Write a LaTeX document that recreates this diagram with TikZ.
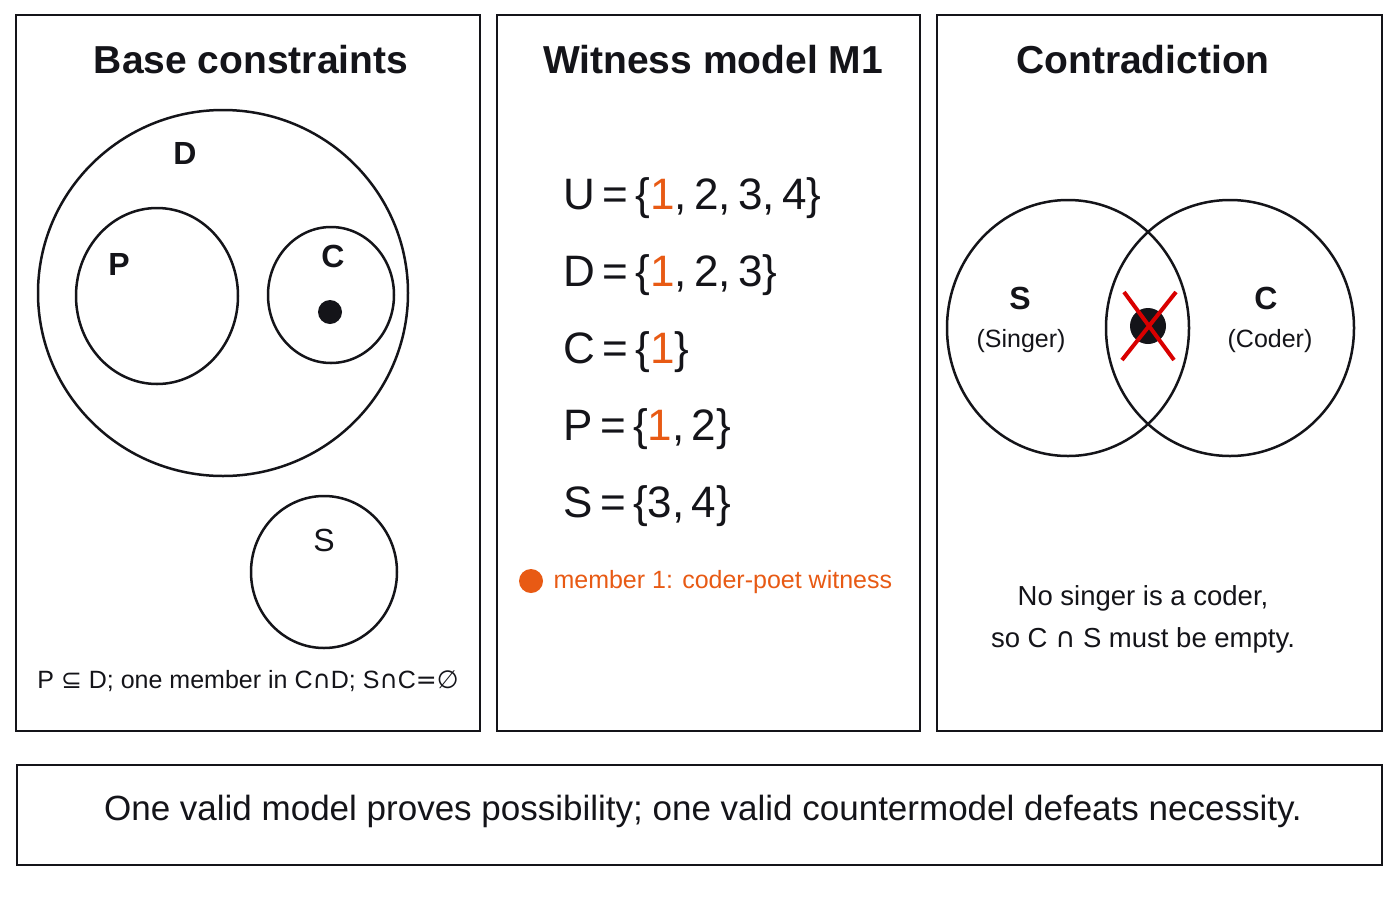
\documentclass[tikz,border=0pt]{standalone}
\usepackage{fontspec}
\setmainfont{Liberation Sans}
\newfontfamily\djv{DejaVu Sans}
\definecolor{org}{RGB}{232,90,20}
\definecolor{ink}{RGB}{20,20,25}
\begin{document}
\begin{tikzpicture}[x=1pt,y=-1pt,
  panel/.style={draw=ink,line width=2.2pt},
  ring/.style={draw=ink,line width=2.5pt},
  title/.style={font=\fontsize{39}{44}\selectfont\bfseries,text=ink},
  lbl/.style={font=\fontsize{32}{36}\selectfont\bfseries,text=ink},
  eq/.style={font=\fontsize{44}{48}\selectfont,text=ink,anchor=west},
  small/.style={font=\fontsize{25}{30}\selectfont,text=ink}]
\useasboundingbox (0,0) rectangle (1400,900);
\fill[white] (0,0) rectangle (1400,900);
\draw[panel] (16,15) rectangle (480,731);
\draw[panel] (497,15) rectangle (920,731);
\draw[panel] (937,15) rectangle (1382,731);
\draw[panel] (17,765) rectangle (1382,865);
% panel 1
\node[title] (t1) at (251,60) {Base constraints};
\draw[ring] (223,293) ellipse [x radius=185, y radius=183];
\node[lbl] (d) at (185,153) {D};
\draw[ring] (157,296) ellipse [x radius=81, y radius=88];
\node[lbl] (p) at (119,264) {P};
\draw[ring] (331,295) ellipse [x radius=63, y radius=68];
\node[lbl] (c) at (333,256) {C};
\fill[ink] (330,312) circle (12);
\draw[ring] (324,572) ellipse [x radius=73, y radius=76];
\node[lbl,font=\fontsize{32}{36}\selectfont] (s) at (324,540) {S};
\node[small,font=\fontsize{25}{30}\selectfont] (cap1) at (248,681) {P {\djv ⊆} D; one member in C{\djv ∩}D; S{\djv ∩}C{\djv =∅}};
% panel 2
\node[title] (t2) at (713,60) {Witness model M1};
\node[eq] (u) at (560,198) {U\,=\,\{\textcolor{org}{1},\,2,\,3,\,4\}};
\node[eq] (dd) at (560,275) {D\,=\,\{\textcolor{org}{1},\,2,\,3\}};
\node[eq] (cc) at (560,352) {C\,=\,\{\textcolor{org}{1}\}};
\node[eq] (pp) at (560,429) {P\,=\,\{\textcolor{org}{1},\,2\}};
\node[eq] (ss) at (560,506) {S\,=\,\{3,\,4\}};
\fill[org] (531,581) circle (12);
\node[small,text=org,anchor=west] (m) at (550,582) {member 1: coder-poet witness};
% panel 3
\node[title] (t3) at (1143,60) {Contradiction};
\draw[ring] (1068,328) ellipse [x radius=121, y radius=128];
\draw[ring] (1230,328) ellipse [x radius=124, y radius=128];
\node[lbl] (s3) at (1020,298) {S};
\node[small] (sg) at (1021,341) {(Singer)};
\node[lbl] (c3) at (1266,298) {C};
\node[small] (cd) at (1270,341) {(Coder)};
\fill[ink] (1148,326) circle (18);
\draw[red!85!black,line width=4pt] (1124,292) -- (1174,360) (1176,292) -- (1122,360);
\node[small,align=center,font=\fontsize{27.5}{42}\selectfont] (nt) at (1143,619) {No singer is a coder,\\so C {\djv ∩} S must be empty.};
% bottom
\node[small,font=\fontsize{35}{40}\selectfont] (b) at (703,811) {One valid model proves possibility; one valid countermodel defeats necessity.};
\end{tikzpicture}
\end{document}
